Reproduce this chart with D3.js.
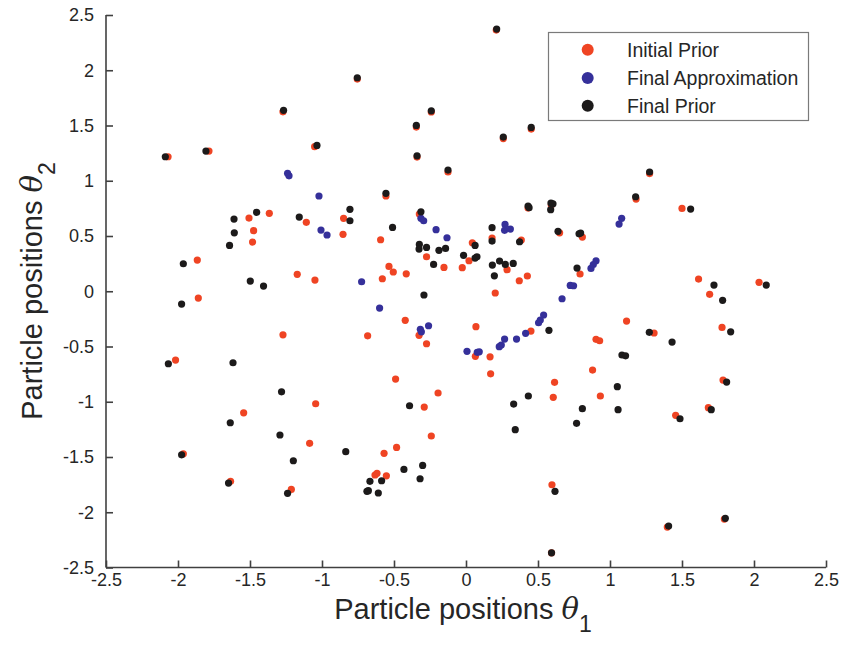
<!DOCTYPE html>
<html><head><meta charset="utf-8">
<script src="https://cdn.jsdelivr.net/npm/d3@7"></script>
<style>
html,body{margin:0;padding:0;background:#fff;}
svg text{font-family:"Liberation Sans",Arial,Helvetica,sans-serif;}
</style></head>
<body><svg id="c" width="843" height="655"></svg>
<script>
const seriesNames = ["Initial Prior", "Final Approximation", "Final Prior"];
const seriesColors = ["#ef4423", "#35309a", "#1c1a1a"];
const xTicks = [-2.5,-2,-1.5,-1,-0.5,0,0.5,1,1.5,2,2.5];
const yTicks = [-2.5,-2,-1.5,-1,-0.5,0,0.5,1,1.5,2,2.5];

const initialPrior = [
[-2.069,1.217],[-1.785,1.269],[-1.271,1.624],[-1.051,1.308],[0.210,2.364],[-0.755,1.920],[-0.241,1.622],[-0.345,1.486],
[-0.340,1.214],[-0.125,1.079],[-0.556,0.862],[0.259,1.382],[0.453,1.468],[1.275,1.065],[1.181,0.834],[-1.507,0.662],
[-1.366,0.705],[-1.475,0.548],[-1.482,0.445],[-1.109,0.624],[-0.850,0.660],[-0.854,0.515],[-1.866,0.282],[-1.172,0.153],
[-1.049,0.101],[-1.859,-0.062],[-1.271,-0.394],[-2.017,-0.623],[-0.324,0.699],[-0.593,0.466],[-0.274,0.312],[-0.153,0.216],
[0.181,0.481],[0.384,0.463],[0.431,0.753],[0.592,0.780],[0.650,0.529],[0.808,0.490],[0.044,0.439],[0.021,0.276],
[-0.026,0.213],[0.285,0.195],[0.370,0.095],[0.426,0.138],[0.792,0.156],[-0.535,0.225],[-0.505,0.174],[-0.415,0.158],
[-0.581,0.113],[0.203,-0.016],[-0.422,-0.263],[0.069,-0.321],[-0.326,-0.399],[-0.274,-0.475],[0.451,-0.360],[-0.683,-0.403],
[0.065,-0.589],[0.167,-0.593],[0.171,-0.747],[-0.489,-0.795],[0.615,-0.824],[1.500,0.750],[1.615,0.110],[1.692,-0.028],
[2.035,0.081],[1.115,-0.270],[1.306,-0.378],[1.778,-0.327],[0.903,-0.435],[0.928,-0.448],[0.879,-0.713],[1.785,-0.804],
[-1.044,-1.018],[-1.544,-1.100],[-1.086,-1.376],[-1.963,-1.471],[-1.635,-1.720],[-1.213,-1.793],[-0.194,-0.921],[-0.290,-1.048],
[-0.241,-1.310],[-0.482,-1.413],[-0.569,-1.467],[-0.632,-1.663],[-0.618,-1.648],[-0.553,-1.670],[0.606,-0.960],[0.597,-1.751],
[0.594,-2.367],[0.933,-0.948],[1.456,-1.123],[1.683,-1.054],[1.398,-2.134],[1.794,-2.062]
];

const finalApproximation = [
[-1.239,1.067],[-1.229,1.045],[-1.021,0.862],[-1.007,0.554],[-0.965,0.509],[-0.313,0.660],[-0.294,0.638],[-0.208,0.557],
[-0.132,0.484],[0.271,0.605],[0.268,0.551],[0.308,0.563],[-0.725,0.086],[0.724,0.053],[0.747,0.050],[0.667,-0.068],
[-0.600,-0.152],[0.539,-0.215],[0.516,-0.261],[0.504,-0.285],[-0.317,-0.345],[-0.310,-0.367],[-0.260,-0.312],[0.414,-0.381],
[0.351,-0.433],[0.268,-0.433],[0.245,-0.487],[0.231,-0.502],[0.007,-0.544],[0.078,-0.553],[0.092,-0.548],[1.081,0.660],
[1.063,0.608],[0.903,0.276],[0.884,0.242],[0.868,0.207]
];

const finalPrior = [
[-2.088,1.217],[-1.806,1.269],[-1.267,1.637],[-1.035,1.320],[0.213,2.373],[-0.755,1.932],[-0.241,1.633],[-0.345,1.501],
[-0.340,1.226],[-0.125,1.097],[-0.556,0.886],[0.259,1.395],[0.453,1.483],[1.275,1.079],[1.178,0.855],[-1.611,0.653],
[-1.454,0.714],[-1.609,0.529],[-1.642,0.415],[-1.158,0.671],[-1.963,0.249],[-1.498,0.092],[-1.406,0.047],[-1.975,-0.116],
[-2.067,-0.656],[-1.618,-0.647],[-0.806,0.741],[-0.806,0.638],[-0.313,0.719],[-0.510,0.578],[-0.324,0.424],[-0.326,0.382],
[-0.274,0.397],[-0.188,0.370],[-0.142,0.388],[-0.225,0.243],[0.181,0.575],[0.181,0.454],[0.372,0.448],[0.431,0.771],
[0.438,0.756],[0.590,0.798],[0.604,0.792],[0.588,0.738],[0.639,0.542],[0.785,0.520],[0.796,0.527],[0.063,0.415],
[-0.017,0.325],[0.063,0.300],[0.076,0.312],[0.183,0.237],[0.233,0.273],[0.273,0.243],[0.328,0.252],[0.197,0.140],
[0.771,0.210],[-0.292,-0.034],[0.576,-0.354],[1.560,0.744],[1.722,0.056],[1.782,-0.082],[2.085,0.056],[1.273,-0.372],
[1.431,-0.460],[1.838,-0.367],[1.083,-0.577],[1.108,-0.584],[1.810,-0.822],[1.051,-0.864],[-1.281,-0.910],[-1.637,-1.190],
[-1.292,-1.301],[-1.975,-1.480],[-1.199,-1.534],[-0.835,-1.452],[-1.649,-1.736],[-1.239,-1.829],[-0.392,-1.036],[-0.431,-1.612],
[-0.301,-1.576],[-0.319,-1.697],[-0.667,-1.720],[-0.586,-1.715],[-0.688,-1.811],[-0.678,-1.805],[-0.609,-1.826],[0.331,-1.021],
[0.433,-0.948],[0.342,-1.253],[0.808,-1.063],[0.768,-1.195],[0.618,-1.811],[0.594,-2.367],[1.056,-1.072],[1.486,-1.154],
[1.703,-1.072],[1.407,-2.125],[1.801,-2.055]
];

const series = [initialPrior, finalApproximation, finalPrior];

const svg = d3.select("#c");
const axisColor = "#404040";
const x = d3.scaleLinear().domain([-2.5, 2.5]).range([106, 826]);
const y = d3.scaleLinear().domain([-2.5, 2.5]).range([567.5, 15]);

const fmt = d => String(d);
const xAxis = d3.axisBottom(x).tickValues(xTicks).tickSize(-7).tickPadding(6).tickFormat(fmt);
const yAxis = d3.axisLeft(y).tickValues(yTicks).tickSize(-7).tickPadding(12).tickFormat(fmt);

const gx = svg.append("g").attr("transform", `translate(0,${y(-2.5)})`).call(xAxis);
const gy = svg.append("g").attr("transform", `translate(${x(-2.5)},0)`).call(yAxis);
[gx, gy].forEach(g => {
  g.attr("font-size", 18).attr("font-family", "'Liberation Sans',Arial,sans-serif");
  g.select(".domain").attr("stroke", axisColor).attr("stroke-width", 1.6);
  g.selectAll(".tick line").attr("stroke", axisColor).attr("stroke-width", 1.6);
  g.selectAll(".tick text").attr("fill", "#262626").attr("font-size", 18);
});
gx.select(".domain").attr("d", `M${x(-2.5)},0H${x(2.5)}`);
gy.select(".domain").attr("d", `M0,${y(-2.5)}V${y(2.5)}`);

// points
series.forEach((s, i) => {
  svg.append("g").selectAll("circle").data(s).join("circle")
    .attr("cx", d => x(d[0])).attr("cy", d => y(d[1])).attr("r", 3.6)
    .attr("fill", seriesColors[i]);
});

// axis titles
const xl = svg.append("text").attr("x", 463).attr("y", 619).attr("text-anchor", "middle")
  .attr("fill", "#262626").style("font-size", "29px");
xl.append("tspan").text("Particle positions ");
xl.append("tspan").style("font-style", "italic").style("font-family", "'DejaVu Serif',serif").text("θ");
xl.append("tspan").attr("dy", 13).style("font-size", "23px").text("1");

const yl = svg.append("text").attr("transform", "translate(42,291) rotate(-90)").attr("text-anchor", "middle")
  .attr("fill", "#262626").style("font-size", "29px");
yl.append("tspan").text("Particle positions ");
yl.append("tspan").style("font-style", "italic").style("font-family", "'DejaVu Serif',serif").text("θ");
yl.append("tspan").attr("dy", 13).style("font-size", "23px").text("2");

// legend
const lg = svg.append("g");
lg.append("rect").attr("x", 548.5).attr("y", 32.5).attr("width", 260).attr("height", 88)
  .attr("fill", "#fff").attr("stroke", "#7a7a7a").attr("stroke-width", 1.2);
const rowsY = [49.7, 78, 105.7];
seriesNames.forEach((n, i) => {
  lg.append("circle").attr("cx", 587.7).attr("cy", rowsY[i]).attr("r", 6).attr("fill", seriesColors[i]);
  lg.append("text").attr("x", 627).attr("y", rowsY[i] + 6.8).attr("fill", "#262626")
    .style("font-size", "19.5px").text(n);
});
</script></body></html>
